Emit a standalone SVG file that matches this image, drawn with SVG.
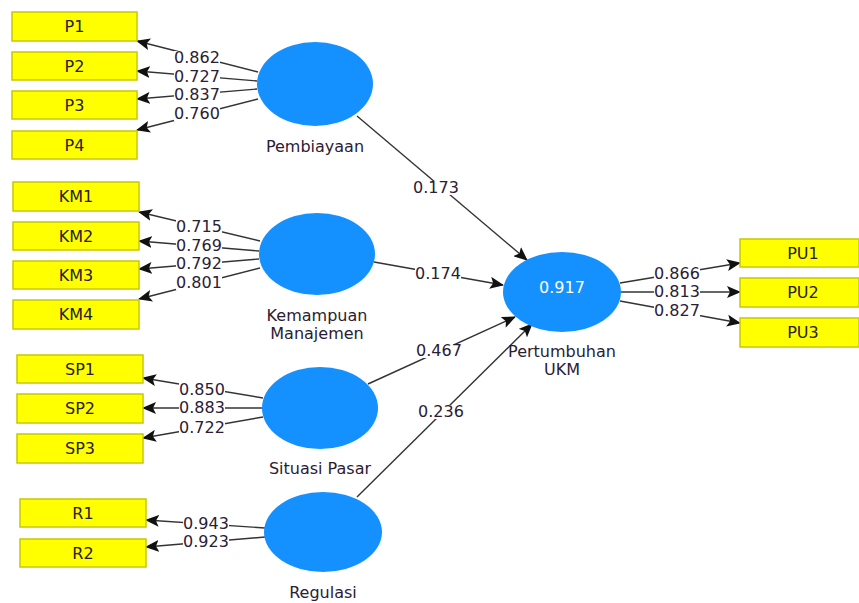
<svg xmlns="http://www.w3.org/2000/svg" width="859" height="603" viewBox="0 0 859 603">
<defs>
<marker id="ah" markerUnits="userSpaceOnUse" markerWidth="14" markerHeight="12" viewBox="0 0 14 12" refX="13" refY="6" orient="auto">
<path d="M0,0 L14,6 L0,12 L3,6 Z" fill="#111"/>
</marker>
</defs>
<style>
.box{fill:#ffff00;stroke:#c8c800;stroke-width:1.5}
.lv{fill:#1591ff}
.t{font-family:"DejaVu Sans",Verdana,sans-serif;font-size:16px;fill:#2a2035;text-anchor:middle}
.bg{fill:#fff}
.c{stroke:#333;stroke-width:1.4;fill:none;marker-end:url(#ah)}
</style>
<rect width="859" height="603" fill="#fff"/>
<g id="connectors">
<line class="c" x1="258" y1="72" x2="137" y2="41"/>
<line class="c" x1="257" y1="81" x2="137" y2="71"/>
<line class="c" x1="257" y1="89" x2="137" y2="99"/>
<line class="c" x1="258" y1="99" x2="137" y2="130"/>
<line class="c" x1="260" y1="241" x2="139" y2="212"/>
<line class="c" x1="259" y1="251" x2="139" y2="241"/>
<line class="c" x1="259" y1="259" x2="139" y2="269"/>
<line class="c" x1="260" y1="268" x2="139" y2="299"/>
<line class="c" x1="263" y1="398" x2="143" y2="378"/>
<line class="c" x1="262" y1="408" x2="143" y2="408"/>
<line class="c" x1="263" y1="417" x2="143" y2="438"/>
<line class="c" x1="265" y1="528" x2="146" y2="520"/>
<line class="c" x1="265" y1="537" x2="146" y2="547"/>
<line class="c" x1="620" y1="283" x2="740" y2="263"/>
<line class="c" x1="621" y1="292" x2="740" y2="292"/>
<line class="c" x1="620" y1="301" x2="740" y2="323"/>
<line class="c" x1="357" y1="116" x2="527" y2="260"/>
<line class="c" x1="374" y1="262" x2="503" y2="285"/>
<line class="c" x1="368" y1="384" x2="515" y2="317"/>
<line class="c" x1="357" y1="497" x2="532" y2="324"/>
<rect class="bg" x="174" y="51" width="46" height="14"/>
<rect class="bg" x="174" y="70" width="46" height="14"/>
<rect class="bg" x="174" y="88" width="46" height="14"/>
<rect class="bg" x="174" y="107" width="46" height="14"/>
<rect class="bg" x="176" y="220" width="46" height="14"/>
<rect class="bg" x="176" y="239" width="46" height="14"/>
<rect class="bg" x="176" y="257" width="46" height="14"/>
<rect class="bg" x="176" y="276" width="46" height="14"/>
<rect class="bg" x="179" y="383" width="46" height="14"/>
<rect class="bg" x="179" y="401" width="46" height="14"/>
<rect class="bg" x="179" y="421" width="46" height="14"/>
<rect class="bg" x="183" y="517" width="46" height="14"/>
<rect class="bg" x="183" y="535" width="46" height="14"/>
<rect class="bg" x="654" y="267" width="46" height="14"/>
<rect class="bg" x="654" y="285" width="46" height="14"/>
<rect class="bg" x="654" y="304" width="46" height="14"/>
<rect class="bg" x="413" y="181" width="46" height="14"/>
<rect class="bg" x="415" y="267" width="46" height="14"/>
<rect class="bg" x="416" y="344" width="46" height="14"/>
<rect class="bg" x="418" y="405" width="46" height="14"/>
<text class="t" x="197" y="63">0.862</text>
<text class="t" x="197" y="82">0.727</text>
<text class="t" x="197" y="100">0.837</text>
<text class="t" x="197" y="119">0.760</text>
<text class="t" x="199" y="232">0.715</text>
<text class="t" x="199" y="251">0.769</text>
<text class="t" x="199" y="269">0.792</text>
<text class="t" x="199" y="288">0.801</text>
<text class="t" x="202" y="395">0.850</text>
<text class="t" x="202" y="413">0.883</text>
<text class="t" x="202" y="433">0.722</text>
<text class="t" x="206" y="529">0.943</text>
<text class="t" x="206" y="547">0.923</text>
<text class="t" x="677" y="279">0.866</text>
<text class="t" x="677" y="297">0.813</text>
<text class="t" x="677" y="316">0.827</text>
<text class="t" x="436" y="193">0.173</text>
<text class="t" x="438" y="279">0.174</text>
<text class="t" x="439" y="356">0.467</text>
<text class="t" x="441" y="417">0.236</text>
</g>
<g id="P1"><rect class="box" x="12" y="12" width="125" height="29"/><text class="t" x="74.5" y="32">P1</text></g>
<g id="P2"><rect class="box" x="12" y="52" width="125" height="28"/><text class="t" x="74.5" y="72">P2</text></g>
<g id="P3"><rect class="box" x="12" y="91" width="125" height="28"/><text class="t" x="74.5" y="111">P3</text></g>
<g id="P4"><rect class="box" x="12" y="131" width="125" height="28"/><text class="t" x="74.5" y="151">P4</text></g>
<g id="KM1"><rect class="box" x="13" y="182" width="126" height="29"/><text class="t" x="76" y="202">KM1</text></g>
<g id="KM2"><rect class="box" x="13" y="222" width="126" height="28"/><text class="t" x="76" y="242">KM2</text></g>
<g id="KM3"><rect class="box" x="13" y="261" width="126" height="28"/><text class="t" x="76" y="281">KM3</text></g>
<g id="KM4"><rect class="box" x="13" y="300" width="126" height="29"/><text class="t" x="76" y="320">KM4</text></g>
<g id="SP1"><rect class="box" x="17" y="355" width="126" height="28"/><text class="t" x="80" y="375">SP1</text></g>
<g id="SP2"><rect class="box" x="17" y="394" width="126" height="29"/><text class="t" x="80" y="414">SP2</text></g>
<g id="SP3"><rect class="box" x="17" y="434" width="126" height="29"/><text class="t" x="80" y="454">SP3</text></g>
<g id="R1"><rect class="box" x="20" y="499" width="126" height="28"/><text class="t" x="83" y="519">R1</text></g>
<g id="R2"><rect class="box" x="20" y="539" width="126" height="28"/><text class="t" x="83" y="559">R2</text></g>
<g id="PU1"><rect class="box" x="740" y="239" width="119" height="28"/><text class="t" x="803" y="259">PU1</text></g>
<g id="PU2"><rect class="box" x="740" y="278" width="119" height="29"/><text class="t" x="803" y="298">PU2</text></g>
<g id="PU3"><rect class="box" x="740" y="318" width="119" height="29"/><text class="t" x="803" y="338">PU3</text></g>
<g id="Pembiayaan"><ellipse class="lv" cx="315" cy="84" rx="58" ry="42"/><text class="t" x="315" y="152">Pembiayaan</text></g>
<g id="KemampuanManajemen"><ellipse class="lv" cx="317" cy="254" rx="58" ry="41"/><text class="t" x="317" y="321">Kemampuan</text><text class="t" x="317" y="339">Manajemen</text></g>
<g id="SituasiPasar"><ellipse class="lv" cx="320" cy="408" rx="58" ry="41"/><text class="t" x="320" y="474">Situasi Pasar</text></g>
<g id="Regulasi"><ellipse class="lv" cx="323" cy="532" rx="59" ry="40"/><text class="t" x="323" y="598">Regulasi</text></g>
<g id="PertumbuhanUKM"><ellipse class="lv" cx="562" cy="292" rx="59" ry="40"/><text class="t" x="562" y="293" style="fill:#fff">0.917</text><text class="t" x="562" y="357">Pertumbuhan</text><text class="t" x="562" y="375">UKM</text></g>
</svg>
